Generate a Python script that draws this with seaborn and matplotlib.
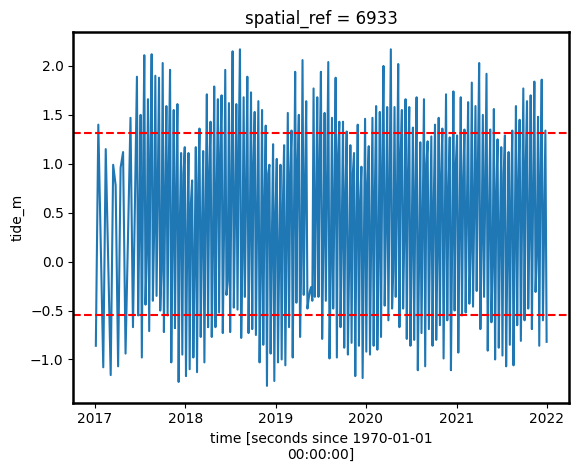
import numpy as np
import pandas as pd
import matplotlib
matplotlib.use("Agg")
import matplotlib.pyplot as plt
import seaborn as sns

# Early (sparse, ~10-day) observations in 2017
early_dates = ["2017-01-05", "2017-01-15", "2017-02-04", "2017-02-14", "2017-03-06",
               "2017-03-16", "2017-03-26", "2017-04-05", "2017-04-15", "2017-04-25",
               "2017-05-05", "2017-05-25", "2017-06-04"]
early_tide = [-0.86, 1.40, -1.08, 1.15, -1.16, 0.99, 0.78, -1.07, 0.96, 1.12,
              -0.94, 1.47, -0.67]

# Dense period: per ~15-day cycle a high, a low and an intermediate reading
dense_start = "2017-06-20"
dense_end = "2021-12-31"
highs = [1.89, 1.50, 2.11, 1.66, 2.12, 1.90, 1.88, 2.03, 1.59, 1.96, 1.55, 1.61,
         1.11, 1.17, 1.11, 0.83, 1.17, 1.36, 1.13, 1.71, 1.43, 1.79, 1.66, 1.70, 1.96,
         1.62, 2.15, 1.61, 2.17, 1.68, 1.89, 1.73, 1.53, 1.64, 1.55, 1.39, 0.99, 1.20,
         1.05, 0.99, 1.19, 1.52, 1.34, 1.94, 1.50, 2.06, 1.64, -0.30, 1.77, 1.68, 1.94,
         1.52, 2.04, 1.47, 1.88, 1.43, 1.43, 1.33, 1.19, 1.11, 1.40, 0.97, 1.46, 1.18,
         1.47, 1.59, 1.53, 2.00, 1.58, 2.17, 1.58, 2.02, 1.55, 1.66, 1.58, 1.37, 1.68,
         1.22, 1.66, 1.23, 1.28, 1.40, 1.47, 1.36, 1.71, 1.27, 1.74, 1.29, 1.68, 1.35, 1.63,
         1.83, 1.59, 2.03, 1.50, 1.92, 1.35, 1.56, 1.25, 1.17, 1.29, 1.12, 1.34, 1.59,
         1.45, 1.77, 1.64, 1.70, 1.84, 1.48, 1.86, 1.34]
lows = [-0.55, -0.98, -0.44, -0.71, -0.40, -0.35, -0.50, -0.72, -0.55, -1.03, -0.68, -1.23, -0.95,
        -1.17, -1.10, -0.98, -1.13, -0.77, -1.03, -0.67, -0.77, -0.67, -0.52, -0.73, -0.34, -0.72,
        -0.47, -0.49, -0.78, -0.36, -0.73, -0.69, -0.75, -1.03, -0.85, -1.27, -0.94, -1.22, -1.03,
        -1.00, -1.06, -0.67, -0.98, -0.42, -0.77, -0.34, -0.48, -0.26, -0.36, -0.36, -0.79, -0.40,
        -0.99, -0.48, -0.98, -0.67, -0.88, -0.95, -0.83, -1.17, -0.86, -1.19, -0.92, -0.95,
        -0.86, -0.90, -0.77, -0.45, -0.60, -0.48, -0.36, -0.67, -0.48, -0.79, -0.86, -0.80, -1.11,
        -0.73, -1.07, -0.69, -0.86, -0.80, -0.65, -0.99, -0.60, -1.11, -0.50, -0.93, -0.55, -0.52,
        -0.43, -0.46, -0.30, -0.69, -0.36, -0.91, -0.62, -1.00, -0.88, -0.96, -1.07, -0.85, -1.06,
        -0.65, -0.81, -0.60, -0.48, -0.69, -0.31, -0.86, -0.60, -0.82]
mids = [0.4, 0.9, 0.1, 1.1, 0.3, 0.8, -0.1, 0.6, 1.0, 0.2, 0.7, 0.4, 0.9,
        0.2, 0.6, 0.0, 0.8, 0.3, 0.5, 0.9, 0.1, 0.7, 1.1, 0.3, -0.2, 0.8, 0.5, 1.2, 0.0,
        0.7, 0.3, 1.0, 0.4, -0.1, 0.6, 0.9, 0.2, 0.5, 0.1,
        0.6, 0.2, 0.9, 0.4, 1.0, 0.0, 0.7, -0.38, -0.40, 0.5, 1.0, 0.2, 0.8, -0.1, 0.6,
        1.1, 0.3, 0.7, 0.0, 0.9, 0.4, 0.6, 0.1, 0.8, 0.3,
        0.7, 0.1, 1.0, 0.4, 0.8, -0.1, 0.6, 1.1, 0.3, 0.9, 0.2, 0.7, 0.0, 0.5, 1.0, 0.3,
        0.6, 0.1, 0.9, 0.4, 0.7, 0.2, 1.0, 0.3, 0.8, 0.5, 0.1,
        0.6, 1.0, 0.2, 0.8, 0.4, 0.0, 0.7, 0.3, 0.9, 0.1, 0.6, 0.2, 0.8, 0.5, 1.0, 0.3,
        0.7, 0.1, 0.9, 0.4]

upper_threshold = 1.31
lower_threshold = -0.544

# assemble series
n = min(len(highs), len(lows))
dense_vals = []
for i in range(n):
    dense_vals.append(highs[i])
    dense_vals.append(lows[i])
    if i < n - 1 and i < len(mids):
        dense_vals.append(mids[i])
dense_dates = pd.date_range(dense_start, dense_end, periods=len(dense_vals))

df = pd.DataFrame({
    "time": list(pd.to_datetime(early_dates)) + list(dense_dates),
    "tide_m": early_tide + dense_vals,
})

fig = plt.figure(figsize=(5.79, 4.71), dpi=100)
ax = fig.add_axes([0.1266, 0.145, 0.983 - 0.1266, 0.931 - 0.145])
sns.lineplot(data=df, x="time", y="tide_m", ax=ax, estimator=None,
             color="#1f77b4", linewidth=1.5)
ax.axhline(upper_threshold, color="red", linestyle="--", linewidth=1.5)
ax.axhline(lower_threshold, color="red", linestyle="--", linewidth=1.5)

ax.set_title("spatial_ref = 6933")
ax.set_xlabel("time [seconds since 1970-01-01\n00:00:00]")
ax.set_ylabel("tide_m")
ax.set_yticks([-1.0, -0.5, 0.0, 0.5, 1.0, 1.5, 2.0])
import matplotlib.dates as mdates
ax.xaxis.set_major_locator(mdates.YearLocator())
ax.xaxis.set_major_formatter(mdates.DateFormatter("%Y"))
for s in ax.spines.values():
    s.set_linewidth(1.8)
    s.set_color("black")

fig.savefig("out.png", dpi=100)
